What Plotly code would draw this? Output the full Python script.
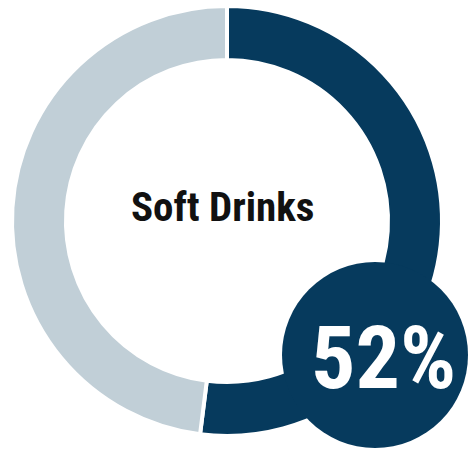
import plotly.graph_objects as go

# Share of the category
labels = ["Soft Drinks", "Other"]
values = [52, 48]
colors = ["#063A5D", "#C1CFD7"]
title_text = "Soft Drinks"
share_text = "52%"

W, H = 470, 451
FONT = "Roboto Condensed, Liberation Sans Narrow, Arial Narrow, sans-serif"


def px_x(x):
    return x / W


def px_y(y):
    return 1 - y / H


fig = go.Figure()

fig.add_trace(go.Pie(
    labels=labels,
    values=values,
    sort=False,
    direction="clockwise",
    rotation=0,
    hole=0.749,
    marker=dict(colors=colors, line=dict(color="white", width=4)),
    textinfo="none",
    hoverinfo="none",
    showlegend=False,
    domain=dict(x=[px_x(12), px_x(442)], y=[px_y(436), px_y(6)]),
))

# Badge circle holding the percentage
fig.add_shape(
    type="circle", xref="paper", yref="paper",
    x0=px_x(282), x1=px_x(468), y0=px_y(448), y1=px_y(262),
    fillcolor="#063A5D", line=dict(width=0), layer="above",
)

fig.add_annotation(
    x=px_x(222), y=px_y(207), xref="paper", yref="paper",
    text=f"<b>{title_text}</b>", showarrow=False,
    xanchor="center", yanchor="middle",
    font=dict(family=FONT, size=41, color="#111111"),
)

fig.add_annotation(
    x=px_x(383), y=px_y(357), xref="paper", yref="paper",
    text=f"<b>{share_text}</b>", showarrow=False,
    xanchor="center", yanchor="middle",
    font=dict(family=FONT, size=88, color="white"),
)

fig.update_layout(
    width=W, height=H,
    margin=dict(l=0, r=0, t=0, b=0),
    paper_bgcolor="white", plot_bgcolor="white",
)

fig.write_html("out.html")
